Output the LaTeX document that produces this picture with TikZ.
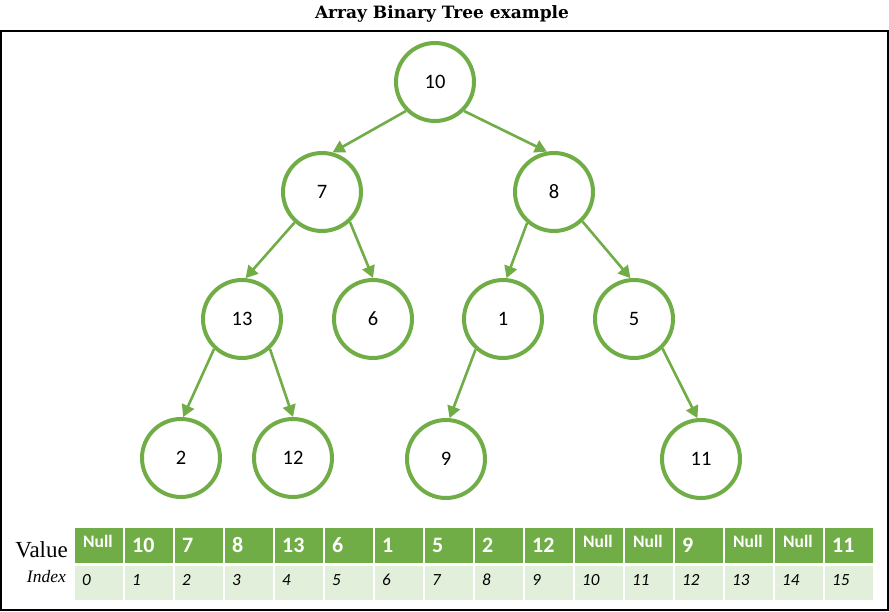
\documentclass[tikz,border=0pt]{standalone}
\usepackage{fontspec}
\setmainfont{Carlito}
\newfontfamily\serifttl{Liberation Serif}
\newfontfamily\titlefont{DejaVu Serif}
\usetikzlibrary{arrows.meta}
\definecolor{tgreen}{HTML}{70AD47}
\definecolor{tlight}{HTML}{E2EFDA}
\begin{document}
\begin{tikzpicture}[x=1pt,y=-1pt,
  tnode/.style={circle,draw=tgreen,line width=4pt,minimum size=78pt,inner sep=0pt,font=\fontsize{20.5}{20.5}\selectfont},
  edge/.style={draw=tgreen,line width=2.6pt,-{Triangle[length=12pt,width=13pt]}},
  vcell/.style={rectangle,fill=tgreen,draw=none,minimum width=48pt,minimum height=35pt,inner sep=0pt},
  icell/.style={rectangle,fill=tlight,draw=none,minimum width=48pt,minimum height=34pt,inner sep=0pt},
  valtxt/.style={inner sep=0pt,text=white,font=\bfseries\fontsize{22}{22}\selectfont},
  nulltxt/.style={inner sep=0pt,text=white,font=\bfseries\fontsize{17.5}{17.5}\selectfont},
  idxtxt/.style={inner sep=0pt,font=\itshape\fontsize{17}{17}\selectfont}]
\useasboundingbox (0,0) rectangle (889,612);
\node[inner sep=0pt,anchor=base,font=\titlefont\bfseries\fontsize{17}{17}\selectfont] (title) at (442,19) {Array Binary Tree example};
\draw[line width=1.5pt] (1,31) rectangle (888,610);
% tree
\node[tnode] (n10) at (435,82) {10};
\node[tnode] (n7) at (322,192) {7};
\node[tnode] (n8) at (554,192) {8};
\node[tnode] (n13) at (242,319) {13};
\node[tnode] (n6) at (373,319) {6};
\node[tnode] (n1) at (503,319) {1};
\node[tnode] (n5) at (634,319) {5};
\node[tnode] (n2) at (181,458) {2};
\node[tnode] (n12) at (293,458) {12};
\node[tnode] (n9) at (446,459) {9};
\node[tnode] (n11) at (701,459) {11};
\draw[edge] (n10.225) -- (n7.75);
\draw[edge] (n10.315) -- (n8.100);
\draw[edge] (n7.228) -- (n13.85);
\draw[edge] (n7.313) -- (n6.90);
\draw[edge] (n8.229) -- (n1.85);
\draw[edge] (n8.314) -- (n5.95);
\draw[edge] (n13.227) -- (n2.87);
\draw[edge] (n13.313) -- (n12.90);
\draw[edge] (n1.228) -- (n9.85);
\draw[edge] (n5.314) -- (n11.95);
% table
\node[inner sep=0pt,anchor=base east,font=\serifttl\fontsize{23}{23}\selectfont] (vlab) at (68,557) {Value};
\node[inner sep=0pt,anchor=base east,font=\serifttl\itshape\fontsize{17.5}{17.5}\selectfont] (ilab) at (66,582) {Index};
\foreach \i in {0,...,15} {
  \node[vcell] (v\i) at (99+50*\i,545.5) {};
  \node[icell] (x\i) at (99+50*\i,583) {};
  \node[idxtxt,anchor=base west] (xt\i) at (82+50*\i,585) {\i};
}
\foreach \i/\v in {1/10,2/7,3/8,4/13,5/6,6/1,7/5,8/2,9/12,12/9,15/11} {
  \node[valtxt,anchor=base west] (vt\i) at (82+50*\i,552) {\v};
}
\foreach \i in {0,10,11,13,14} {
  \node[nulltxt,anchor=base west] (vt\i) at (83+50*\i,547) {Null};
}
\end{tikzpicture}
\end{document}
